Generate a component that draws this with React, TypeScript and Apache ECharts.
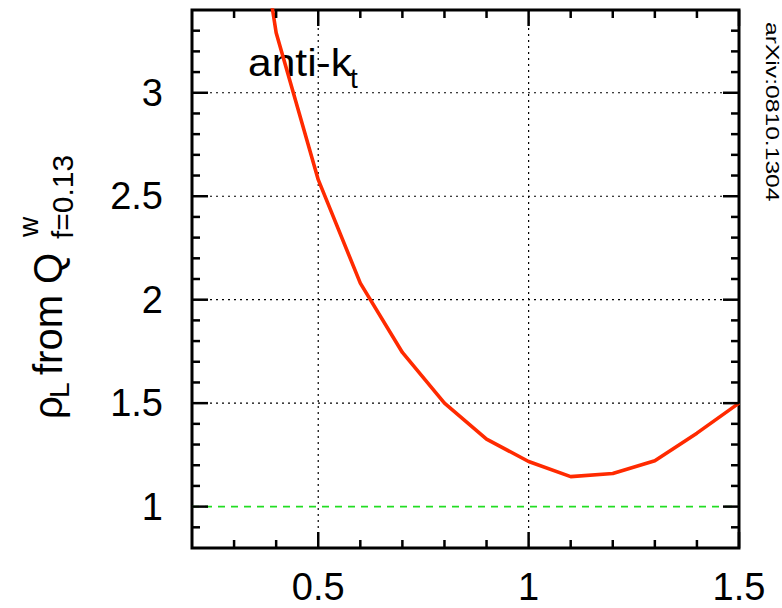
import React, { useEffect, useRef } from "react";
import * as echarts from "echarts";

// ---- data ----
const coneRadius = [0.3, 0.4, 0.5, 0.6, 0.7, 0.8, 0.9, 1.0, 1.1, 1.2, 1.3, 1.4, 1.5];
const rhoL = [4.6, 3.29, 2.58, 2.08, 1.745, 1.5, 1.326, 1.218, 1.145, 1.16, 1.222, 1.355, 1.5];
const refLineX = [0.2, 1.5];
const refLineY = [1, 1];
const xMajorTicks = [0.5, 1, 1.5];
const yMajorTicks = [1, 1.5, 2, 2.5, 3];
const xMinorTicks = [0.3, 0.4, 0.6, 0.7, 0.8, 0.9, 1.1, 1.2, 1.3, 1.4];
const yMinorTicks = [0.9, 1.1, 1.2, 1.3, 1.4, 1.6, 1.7, 1.8, 1.9, 2.1, 2.2, 2.3, 2.4, 2.6, 2.7, 2.8, 2.9, 3.1, 3.2, 3.3];
const xGridLines = [0.5, 1];
const yGridLines = [1.5, 2, 2.5, 3];
const X_MIN = 0.2;
const X_MAX = 1.5;
const Y_MIN = 0.8;
const Y_MAX = 3.4;
const STEP = 0.1;

const FONT = "'Liberation Sans', Arial, Helvetica, sans-serif";

function majorLabel(v: number): string {
  const r = Math.round(v * 2) / 2;
  return Math.abs(v - r) < 1e-6 ? String(r) : "";
}

export default function App() {
  const ref = useRef<HTMLDivElement>(null);

  useEffect(() => {
    if (!ref.current) return;
    const chart = echarts.init(ref.current, undefined, { renderer: "svg" });

    const axisCommon = {
      type: "value" as const,
      interval: STEP,
      splitLine: { show: false },
      axisLine: { show: false },
      axisTick: { show: false },
    };

    const gridData = [
      ...xGridLines.map((v) => [v, Y_MIN, 0]),
      ...yGridLines.map((v) => [X_MIN, v, 1]),
    ];
    // kind: 0 = x major, 1 = x minor, 2 = y major, 3 = y minor
    const tickData = [
      ...xMajorTicks.map((v) => [v, Y_MIN, 0]),
      ...xMinorTicks.map((v) => [v, Y_MIN, 1]),
      ...yMajorTicks.map((v) => [X_MIN, v, 2]),
      ...yMinorTicks.map((v) => [X_MIN, v, 3]),
    ];

    const rotText = (text: string, x: number, y: number, size: number) => ({
      type: "text",
      x,
      y,
      rotation: Math.PI / 2,
      style: {
        text,
        fontSize: size,
        fontFamily: FONT,
        fill: "#000",
        align: "left",
        verticalAlign: "middle",
      },
    });

    chart.setOption({
      animation: false,
      backgroundColor: "#fff",
      grid: {
        left: 192,
        right: 43,
        top: 10,
        bottom: 60,
        containLabel: false,
        show: true,
        borderColor: "#000",
        borderWidth: 3,
      },
      xAxis: {
        ...axisCommon,
        min: X_MIN,
        max: X_MAX,
        position: "bottom",
        axisLabel: { show: true, formatter: majorLabel, color: "#000", fontSize: 38, fontFamily: FONT, margin: 20 },
      },
      yAxis: {
        ...axisCommon,
        min: Y_MIN,
        max: Y_MAX,
        position: "left",
        axisLabel: { show: true, formatter: majorLabel, color: "#000", fontSize: 38, fontFamily: FONT, margin: 29 },
      },
      series: [
        {
          type: "custom",
          name: "grid",
          z: 1,
          silent: true,
          coordinateSystem: "cartesian2d",
          encode: { x: 0, y: 1 },
          data: gridData,
          renderItem: (params: any, api: any) => {
            const cs = params.coordSys;
            const kind = api.value(2);
            const style = { stroke: "#000", lineWidth: 1.2, lineDash: [2, 4] };
            if (kind === 0) {
              const p = api.coord([api.value(0), Y_MIN]);
              return { type: "line", shape: { x1: p[0], y1: cs.y, x2: p[0], y2: cs.y + cs.height }, style };
            }
            const p = api.coord([X_MIN, api.value(1)]);
            return { type: "line", shape: { x1: cs.x, y1: p[1], x2: cs.x + cs.width, y2: p[1] }, style };
          },
        },
        {
          type: "custom",
          name: "ticks",
          z: 6,
          silent: true,
          coordinateSystem: "cartesian2d",
          encode: { x: 0, y: 1 },
          data: tickData,
          renderItem: (params: any, api: any) => {
            const cs = params.coordSys;
            const kind = api.value(2);
            const L = kind === 0 || kind === 2 ? 16 : 8;
            const style = { stroke: "#000", lineWidth: 2.5 };
            if (kind === 0 || kind === 1) {
              const p = api.coord([api.value(0), Y_MIN]);
              const b = cs.y + cs.height;
              return {
                type: "group",
                children: [
                  { type: "line", shape: { x1: p[0], y1: b, x2: p[0], y2: b - L }, style },
                  { type: "line", shape: { x1: p[0], y1: cs.y, x2: p[0], y2: cs.y + L }, style },
                ],
              };
            }
            const p = api.coord([X_MIN, api.value(1)]);
            const r = cs.x + cs.width;
            return {
              type: "group",
              children: [
                { type: "line", shape: { x1: cs.x, y1: p[1], x2: cs.x + L, y2: p[1] }, style },
                { type: "line", shape: { x1: r, y1: p[1], x2: r - L, y2: p[1] }, style },
              ],
            };
          },
        },
        {
          type: "line",
          name: "reference",
          z: 4,
          data: refLineX.map((x, i) => [x, refLineY[i]]),
          showSymbol: false,
          symbol: "none",
          lineStyle: { color: "#22dd22", width: 1.6, type: [7, 6] },
        },
        {
          type: "line",
          name: "anti-kt",
          z: 5,
          clip: true,
          data: coneRadius.map((x, i) => [x, rhoL[i]]),
          showSymbol: false,
          symbol: "none",
          lineStyle: { color: "#ff2a00", width: 3.6 },
        },
      ],
      graphic: [
        {
          type: "text",
          x: 248,
          y: 63,
          scaleX: 1.12,
          style: { text: "anti-k", fontSize: 38, fontFamily: FONT, fill: "#000", align: "left", verticalAlign: "middle" },
        },
        {
          type: "text",
          x: 350,
          y: 78,
          style: { text: "t", fontSize: 28, fontFamily: FONT, fill: "#000", align: "left", verticalAlign: "middle" },
        },
        rotText("\u03c1", 47.6, 419, 40),
        rotText("L", 59.3, 398, 28),
        rotText("from Q", 47.6, 375, 40),
        rotText("w", 28.3, 237, 28),
        rotText("f=0.13", 62.7, 239, 30),
        {
          type: "text",
          x: 772.6,
          y: 22,
          rotation: -Math.PI / 2,
          scaleX: 1.37,
          style: { text: "arXiv:0810.1304", fontSize: 18, fontFamily: FONT, fill: "#000", align: "left", verticalAlign: "middle" },
        },
      ],
    });

    return () => chart.dispose();
  }, []);

  return <div ref={ref} style={{ width: 782, height: 608, position: "absolute", left: 0, top: 0 }} />;
}
